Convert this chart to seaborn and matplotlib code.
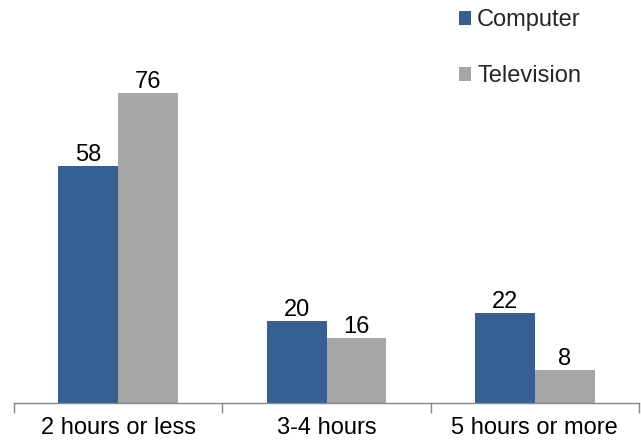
import pandas as pd
import seaborn as sns
import matplotlib.pyplot as plt
from matplotlib.ticker import FixedLocator

# data
categories = ['2 hours or less', '3-4 hours', '5 hours or more']
computer = [58, 20, 22]
television = [76, 16, 8]
series = ['Computer', 'Television']
colors = ['#376092', '#A6A6A6']

df = pd.DataFrame({
    'Hours': categories * 2,
    'Value': computer + television,
    'Device': [series[0]] * 3 + [series[1]] * 3,
})

sns.set_theme(style='white')
plt.rcParams['font.family'] = ['Liberation Sans', 'DejaVu Sans']

fig = plt.figure(figsize=(6.41, 4.42), dpi=100)
ax = fig.add_axes([14 / 641, 1 - 403 / 442, 625 / 641, 393 / 442])

sns.barplot(data=df, x='Hours', y='Value', hue='Device', palette=colors,
            width=0.575, gap=0, saturation=1, linewidth=0, ax=ax, legend=True)

# value labels on top of bars
for cont in ax.containers:
    ax.bar_label(cont, fontsize=17, padding=0, color='black')

ax.set_xlim(-0.5, 2.5)
ax.set_ylim(0, 96.3)
ax.set_xlabel('')
ax.set_ylabel('')
ax.set_yticks([])

for side in ['top', 'right', 'left']:
    ax.spines[side].set_visible(False)
ax.spines['bottom'].set_color('#868686')
ax.spines['bottom'].set_linewidth(1)

ax.xaxis.set_minor_locator(FixedLocator([-0.5, 0.5, 1.5, 2.5]))
ax.tick_params(axis='x', which='major', length=0, labelsize=17, pad=10, colors='black')
ax.tick_params(axis='x', which='minor', length=7, width=1, color='#868686', bottom=True)

handles, labels = ax.get_legend_handles_labels()
ax.legend_.remove()
fig.legend(handles, labels, loc='upper left', bbox_to_anchor=(459 / 641, 1 - 9 / 442),
           frameon=False, fontsize=17, handlelength=0.52, handleheight=0.52,
           handletextpad=0.25, labelspacing=1.45, borderaxespad=0, borderpad=0)

plt.savefig('out.png', dpi=100)
plt.close()
